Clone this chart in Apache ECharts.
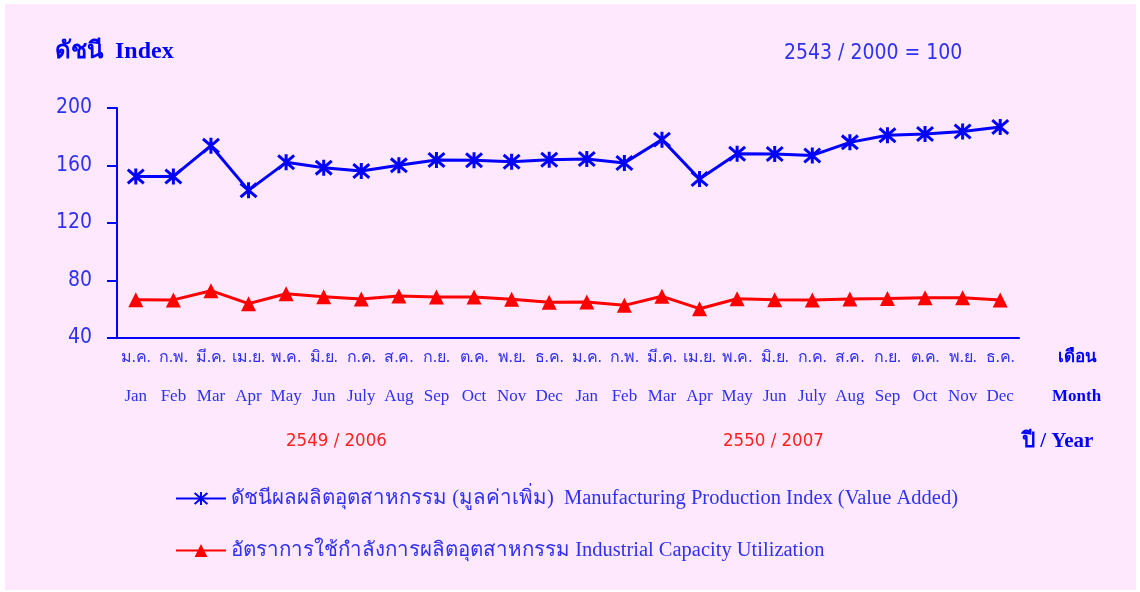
<!DOCTYPE html>
<html>
<head>
<meta charset="utf-8">
<script src="https://cdn.jsdelivr.net/npm/echarts@6/dist/echarts.min.js"></script>
<style>
html, body { margin: 0; padding: 0; background: #ffffff; }
#main { width: 1140px; height: 592px; }
</style>
</head>
<body>
<div id="main"></div>
<script>
var thaiMonths = ['ม.ค.', 'ก.พ.', 'มี.ค.', 'เม.ย.', 'พ.ค.', 'มิ.ย.', 'ก.ค.', 'ส.ค.', 'ก.ย.', 'ต.ค.', 'พ.ย.', 'ธ.ค.'];
var engMonths = ['Jan', 'Feb', 'Mar', 'Apr', 'May', 'Jun', 'July', 'Aug', 'Sep', 'Oct', 'Nov', 'Dec'];
var thaiCats = thaiMonths.concat(thaiMonths);
var engCats = engMonths.concat(engMonths);

// 2006 Jan .. 2007 Dec
var mpiValues = [152.4, 152.4, 173.8, 142.7, 162.2, 158.5, 156.2, 160.1, 163.8, 163.6, 162.6, 164.0,
	164.5, 161.7, 178.0, 150.6, 168.2, 168.0, 167.0, 176.1, 181.0, 181.9, 183.7, 186.8];
var capValues = [66.6, 66.5, 72.9, 63.9, 70.8, 68.7, 67.1, 69.2, 68.5, 68.5, 67.0, 64.8,
	65.0, 62.7, 69.0, 60.4, 67.3, 66.6, 66.5, 67.1, 67.5, 68.0, 68.0, 66.5];

var yTicks = {min: 40, max: 200, interval: 40};

var mpiName = 'ดัชนีผลผลิตอุตสาหกรรม (มูลค่าเพิ่ม)  Manufacturing Production Index (Value Added)';
var capName = 'อัตราการใช้กำลังการผลิตอุตสาหกรรม Industrial Capacity Utilization';

var blue = '#0000ff';
var textBlue = '#3030f0';
var narrow = "'DejaVu Sans Condensed', 'DejaVu Sans', sans-serif";
var serif = "'Liberation Serif', 'DejaVu Serif', serif";
var starPath = 'path://M1,1L13,13M13,1L1,13M7,0L7,14';

var myChart = echarts.init(document.getElementById('main'));

var option = {
	backgroundColor: '#ffffff',
	animation: false,
	graphic: [
		{type: 'rect', z: -10, shape: {x: 5, y: 4, width: 1131, height: 586}, style: {fill: '#fde8fd'}},
		{type: 'text', left: 55, top: 40, style: {text: 'ดัชนี  Index', fill: blue, font: 'bold 24px ' + serif}},
		{type: 'text', left: 784, top: 43, style: {text: '2543 / 2000 = 100', fill: textBlue, font: '21px ' + narrow}},
		{type: 'text', left: 1058, top: 349, style: {text: 'เดือน', fill: blue, font: 'bold 17px ' + serif}},
		{type: 'text', left: 1052, top: 388, style: {text: 'Month', fill: blue, font: 'bold 17px ' + serif}},
		{type: 'text', left: 286, top: 432, style: {text: '2549 / 2006', fill: '#ff2020', font: '18.5px ' + narrow}},
		{type: 'text', left: 723, top: 432, style: {text: '2550 / 2007', fill: '#ff2020', font: '18.5px ' + narrow}},
		{type: 'text', left: 1022, top: 431, style: {text: 'ปี / Year', fill: blue, font: 'bold 21px ' + serif}}
	],
	grid: {left: 117, right: 121, top: 108, bottom: 254},
	legend: {
		orient: 'vertical',
		left: 170,
		top: 483,
		itemWidth: 50,
		itemHeight: 16,
		itemGap: 31,
		textStyle: {color: textBlue, fontSize: 20.5, fontFamily: serif},
		data: [mpiName, capName]
	},
	xAxis: [
		{
			type: 'category',
			data: thaiCats,
			axisLine: {lineStyle: {color: blue, width: 2}},
			axisTick: {show: false},
			axisLabel: {interval: 0, margin: 12, color: textBlue, fontSize: 16, fontFamily: serif}
		},
		{
			type: 'category',
			position: 'bottom',
			offset: 39,
			data: engCats,
			axisLine: {show: false},
			axisTick: {show: false},
			axisLabel: {interval: 0, margin: 11, color: textBlue, fontSize: 17, fontFamily: serif}
		}
	],
	yAxis: {
		type: 'value',
		min: yTicks.min,
		max: yTicks.max,
		interval: yTicks.interval,
		axisLine: {show: true, lineStyle: {color: blue, width: 2}},
		axisTick: {show: true, length: 10, lineStyle: {color: blue, width: 2}},
		splitLine: {show: false},
		axisLabel: {margin: 25, color: textBlue, fontSize: 21, fontFamily: narrow}
	},
	series: [
		{
			name: mpiName,
			type: 'line',
			data: mpiValues,
			symbol: starPath,
			symbolSize: 16,
			lineStyle: {color: blue, width: 3},
			itemStyle: {color: blue, borderColor: blue, borderWidth: 3}
		},
		{
			name: capName,
			type: 'line',
			data: capValues,
			symbol: 'triangle',
			symbolSize: 15,
			lineStyle: {color: '#ff0000', width: 3},
			itemStyle: {color: '#ff0000'}
		}
	]
};

myChart.setOption(option);
</script>
</body>
</html>
